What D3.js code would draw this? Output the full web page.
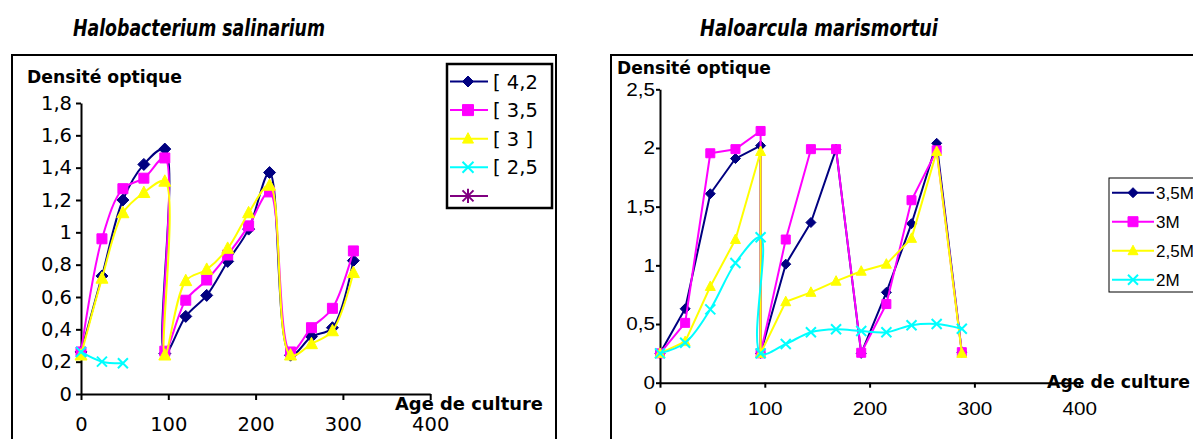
<!DOCTYPE html>
<html>
<head>
<meta charset="utf-8">
<script src="https://cdn.jsdelivr.net/npm/d3@7"></script>
<style>
  html, body { margin: 0; padding: 0; background: #fff; }
  svg { display: block; }
</style>
</head>
<body>
<script>
// ---- Growth curves: optical density vs culture age (h) ----

// Halobacterium salinarium
const hsAges = [0, 24, 48, 72, 96, 96, 120, 144, 168, 192, 216, 240, 264, 288, 312];
const hs42   = [0.26, 0.73, 1.20, 1.42, 1.515, 0.25, 0.48, 0.61, 0.82, 1.02, 1.37, 0.24, 0.355, 0.41, 0.825];
const hs35   = [0.26, 0.96, 1.27, 1.335, 1.46, 0.265, 0.58, 0.705, 0.86, 1.04, 1.25, 0.26, 0.41, 0.53, 0.885];
const hs30   = [0.24, 0.715, 1.12, 1.245, 1.315, 0.24, 0.70, 0.77, 0.90, 1.12, 1.29, 0.24, 0.31, 0.39, 0.75];
const hs25Ages = [0, 24, 48];
const hs25   = [0.26, 0.20, 0.19];
const hsLegend = ["[ 4,2", "[ 3,5", "[ 3 ]", "[ 2,5", ""];
const hsYTicks = [0, 0.2, 0.4, 0.6, 0.8, 1, 1.2, 1.4, 1.6, 1.8];
const hsXTicks = [0, 100, 200, 300, 400];

// Haloarcula marismortui
const hmAges = [0, 24, 48, 72, 96, 96, 120, 144, 168, 192, 216, 240, 264, 288];
const hm35   = [0.25, 0.63, 1.61, 1.91, 2.02, 0.25, 1.01, 1.365, 1.99, 0.25, 0.77, 1.355, 2.04, 0.26];
const hm30   = [0.25, 0.51, 1.955, 1.99, 2.145, 0.25, 1.22, 1.99, 1.99, 0.255, 0.67, 1.555, 1.98, 0.26];
const hm25   = [0.25, 0.35, 0.82, 1.22, 1.97, 0.25, 0.69, 0.77, 0.865, 0.95, 1.01, 1.23, 1.97, 0.25];
const hm20   = [0.25, 0.34, 0.625, 1.02, 1.24, 0.25, 0.33, 0.43, 0.455, 0.44, 0.43, 0.49, 0.50, 0.46];
const hmLegend = ["3,5M", "3M", "2,5M", "2M"];
const hmYTicks = [0, 0.5, 1, 1.5, 2, 2.5];
const hmXTicks = [0, 100, 200, 300, 400];

const titles = ["Halobacterium salinarium", "Haloarcula marismortui"];
const yTitle = "Densité optique";
const xTitle = "Age de culture";

const NAVY = "#000080", MAGENTA = "#ff00ff", YELLOW = "#ffff00", CYAN = "#00ffff", PURPLE = "#800080";
const frFmt = v => String(v).replace(".", ",");

const svg = d3.select("body").append("svg")
  .attr("width", 1193).attr("height", 439)
  .style("font-family", "'DejaVu Sans', Verdana, sans-serif");

svg.append("rect").attr("width", 1193).attr("height", 439).attr("fill", "#fff");

// marker glyphs (centred on 0,0, half-size r)
function markerPath(type, r) {
  switch (type) {
    case "diamond": return `M0,${-r}L${r},0L0,${r}L${-r},0Z`;
    case "square": return `M${-r},${-r}H${r}V${r}H${-r}Z`;
    case "triangle": return `M0,${-r * 1.1}L${r},${r * 0.8}L${-r},${r * 0.8}Z`;
    case "x": return `M${-r},${-r}L${r},${r}M${-r},${r}L${r},${-r}`;
    case "star": return `M${-r},${-r}L${r},${r}M${-r},${r}L${r},${-r}M0,${-r * 1.3}V${r * 1.3}`;
  }
}
function drawMarker(g, type, r, color, x, y) {
  const open = (type === "x" || type === "star");
  g.append("path")
    .attr("transform", `translate(${x},${y})`)
    .attr("d", markerPath(type, r))
    .attr("fill", open ? "none" : color)
    .attr("stroke", color)
    .attr("stroke-width", open ? 2 : 1);
}

function boldLabel(g, text, x, y, len, size, italic) {
  g.append("text")
    .attr("x", x).attr("y", y)
    .attr("font-family", "'DejaVu Sans', sans-serif")
    .attr("font-weight", "bold")
    .attr("font-style", italic ? "italic" : "normal")
    .attr("font-size", size)
    .attr("textLength", len)
    .attr("lengthAdjust", "spacingAndGlyphs")
    .text(text);
}

function drawSeries(g, x, y, ages, vals, color, type, r, curve) {
  const pts = ages.map((a, i) => [a, vals[i]]);
  const line = d3.line().x(d => x(d[0])).y(d => y(d[1])).curve(curve);
  g.append("path").attr("d", line(pts)).attr("fill", "none")
    .attr("stroke", color).attr("stroke-width", 2).attr("stroke-linejoin", "round");
  pts.forEach(d => drawMarker(g, type, r, color, x(d[0]), y(d[1])));
}

// ================= Panel 1 : Halobacterium salinarium =================
{
  const g = svg.append("g");
  boldLabel(svg, titles[0], 73, 36, 252, 22.5, true);

  g.append("rect").attr("x", 12).attr("y", 55).attr("width", 544).attr("height", 420)
    .attr("fill", "none").attr("stroke", "#000").attr("stroke-width", 2);

  const x = d3.scaleLinear().domain([0, 400]).range([81, 430.2]);
  const y = d3.scaleLinear().domain([0, 1.8]).range([394, 103]);

  const yAx = g.append("g").attr("transform", `translate(${x(0)},0)`)
    .call(d3.axisLeft(y).tickValues(hsYTicks).tickFormat(frFmt).tickSize(5).tickPadding(4).tickSizeOuter(0));
  const xAx = g.append("g").attr("transform", `translate(0,${y(0)})`)
    .call(d3.axisBottom(x).tickValues(hsXTicks).tickFormat(frFmt).tickSize(6).tickPadding(17).tickSizeOuter(0));
  [yAx, xAx].forEach(a => {
    a.select(".domain").attr("stroke", "#000").attr("stroke-width", 2);
    a.selectAll(".tick line").attr("stroke", "#000").attr("stroke-width", 2);
    a.selectAll("text").attr("font-family", "'DejaVu Sans', sans-serif").attr("font-size", 19.5).attr("fill", "#000");
  });

  boldLabel(g, yTitle, 27, 83, 155, 17.5, false);
  boldLabel(g, xTitle, 395, 410, 148, 17.5, false);

  const smooth = d3.curveCatmullRom.alpha(0.5);
  drawSeries(g, x, y, hsAges, hs42, NAVY, "diamond", 6, smooth);
  drawSeries(g, x, y, hsAges, hs35, MAGENTA, "square", 5, smooth);
  drawSeries(g, x, y, hsAges, hs30, YELLOW, "triangle", 6, smooth);
  drawSeries(g, x, y, hs25Ages, hs25, CYAN, "x", 5, smooth);

  // legend
  const lg = g.append("g");
  lg.append("rect").attr("x", 447).attr("y", 64).attr("width", 105).attr("height", 144)
    .attr("fill", "#fff").attr("stroke", "#000").attr("stroke-width", 2.5);
  const cols = [NAVY, MAGENTA, YELLOW, CYAN, PURPLE];
  const types = ["diamond", "square", "triangle", "x", "star"];
  hsLegend.forEach((t, i) => {
    const cy = 81.5 + i * 28.6;
    lg.append("line").attr("x1", 450).attr("x2", 488).attr("y1", cy).attr("y2", cy)
      .attr("stroke", cols[i]).attr("stroke-width", 2);
    drawMarker(lg, types[i], 5.5, cols[i], 468, cy);
    lg.append("text").attr("x", 493).attr("y", cy).attr("dy", "0.36em")
      .attr("font-size", 19.5).attr("font-family", "'DejaVu Sans', sans-serif").text(t);
  });
}

// ================= Panel 2 : Haloarcula marismortui =================
{
  const g = svg.append("g");
  boldLabel(svg, titles[1], 700, 36, 238, 22.5, true);

  g.append("rect").attr("x", 611).attr("y", 55).attr("width", 640).attr("height", 420)
    .attr("fill", "none").attr("stroke", "#000").attr("stroke-width", 2);

  const x = d3.scaleLinear().domain([0, 400]).range([660, 1079.2]);
  const y = d3.scaleLinear().domain([0, 2.5]).range([382.7, 89.3]);
  const sx = 1.15;

  const yAx = g.append("g").attr("transform", `translate(${x(0)},0)`)
    .call(d3.axisLeft(y).tickValues(hmYTicks).tickFormat(frFmt).tickSize(4).tickPadding(1).tickSizeOuter(0));
  const xAx = g.append("g").attr("transform", `translate(0,${y(0)})`)
    .call(d3.axisBottom(x).tickValues(hmXTicks).tickFormat(frFmt).tickSize(5).tickPadding(15).tickSizeOuter(0));
  [yAx, xAx].forEach(a => {
    a.select(".domain").attr("stroke", "#000").attr("stroke-width", 2);
    a.selectAll(".tick line").attr("stroke", "#000").attr("stroke-width", 2);
    a.selectAll("text").attr("font-family", "'Liberation Sans', Arial, sans-serif")
      .attr("font-size", 18).attr("fill", "#000");
  });
  // slightly widened numerals
  yAx.selectAll("text").attr("x", -5 / sx).attr("transform", `scale(${sx},1)`);
  xAx.selectAll("text").attr("transform", `scale(${sx},1)`);

  boldLabel(g, yTitle, 617, 74, 154, 17.5, false);
  boldLabel(g, xTitle, 1047, 388, 143, 17.5, false);

  drawSeries(g, x, y, hmAges, hm35, NAVY, "diamond", 5, d3.curveLinear);
  drawSeries(g, x, y, hmAges, hm30, MAGENTA, "square", 4.5, d3.curveLinear);
  drawSeries(g, x, y, hmAges, hm25, YELLOW, "triangle", 5, d3.curveLinear);
  drawSeries(g, x, y, hmAges, hm20, CYAN, "x", 5, d3.curveCatmullRom.alpha(0.5));

  // legend
  const lg = g.append("g");
  lg.append("rect").attr("x", 1109).attr("y", 178).attr("width", 120).attr("height", 114)
    .attr("fill", "#fff").attr("stroke", "#000").attr("stroke-width", 1);
  const cols = [NAVY, MAGENTA, YELLOW, CYAN];
  const types = ["diamond", "square", "triangle", "x"];
  hmLegend.forEach((t, i) => {
    const cy = 192.7 + i * 29;
    lg.append("line").attr("x1", 1112).attr("x2", 1154).attr("y1", cy).attr("y2", cy)
      .attr("stroke", cols[i]).attr("stroke-width", 2);
    drawMarker(lg, types[i], 5, cols[i], 1133, cy);
    lg.append("text").attr("x", 1156).attr("y", cy).attr("dy", "0.36em")
      .attr("font-size", 17).attr("font-family", "'Liberation Sans', Arial, sans-serif").text(t);
  });
}
</script>
</body>
</html>
